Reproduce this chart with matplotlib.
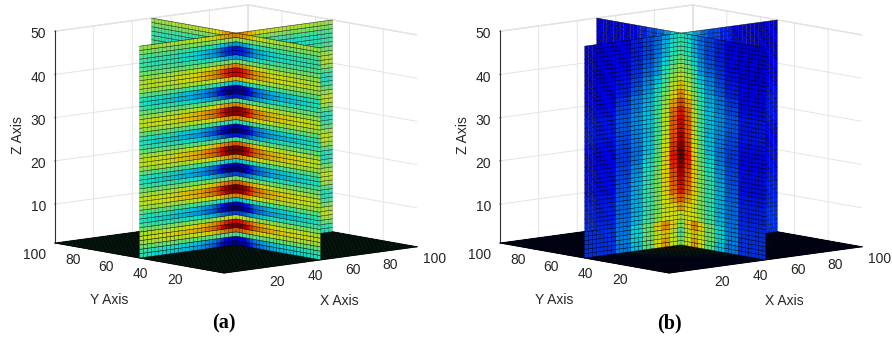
import numpy as np
import matplotlib
matplotlib.use("Agg")
import matplotlib.pyplot as plt
from mpl_toolkits.mplot3d import proj3d
from mpl_toolkits.mplot3d.art3d import Poly3DCollection, Line3DCollection

plt.rcParams['font.family'] = ['Liberation Sans', 'DejaVu Sans']

X_TICKS = [20, 40, 60, 80, 100]
Y_TICKS = [20, 40, 60, 80, 100]
Z_TICKS = [10, 20, 30, 40, 50]
PANEL_LABELS = ['(a)', '(b)']

# panel (a): field along z (one value per mesh row, bottom to top), -1 .. 1
wave_a = [-.95, -.8, -.1, .6, 1, .8, .2, -.6, -1, -.85, -.3, .5, .95, 1, .6, 0, -.6, -1, -.9, -.3,
          .5, 1, 1, .6, -.1, -.7, -1, -.85, -.2, .5, .95, .95, .5, -.1, -.7, -1, -.9, -.3, .4, .8,
          .8, .5, 0, -.4, -.7, -.7, -.4, .1, .5]
# panel (a): amplitude by distance from the central line (2-unit bins)
envelope_a = [.50, .49, .46, .41, .35, .30, .27, .25, .23, .21, .20, .19, .18, .17, .17, .16, .16,
              .15, .15, .14, .14, .13, .12, .11, .10]
floor_a = 45

# panel (b): readings in percent of the colour range
dist_edges_b = [0, 3, 6, 10, 15, 20, 27, 35, 51]
z_rows_b = list(range(2, 52, 2))
table_b = [
    [50, 62, 72, 64, 48, 34, 26, 18], [46, 60, 68, 62, 50, 36, 27, 18], [52, 66, 74, 66, 50, 36, 26, 18],
    [60, 64, 64, 54, 44, 33, 25, 17], [72, 66, 62, 52, 42, 32, 24, 16], [80, 72, 64, 52, 42, 32, 24, 16],
    [88, 78, 66, 52, 42, 32, 23, 15], [90, 80, 66, 52, 42, 31, 22, 14], [94, 82, 66, 52, 40, 30, 21, 14],
    [98, 86, 66, 50, 38, 28, 20, 14], [100, 88, 66, 48, 36, 26, 19, 13], [98, 85, 64, 47, 34, 25, 19, 13],
    [94, 82, 62, 45, 34, 26, 20, 14], [90, 80, 60, 44, 33, 27, 21, 15], [90, 80, 60, 44, 34, 28, 22, 15],
    [88, 78, 60, 44, 34, 28, 22, 15], [82, 72, 56, 42, 33, 26, 20, 14], [74, 66, 52, 40, 32, 25, 18, 13],
    [68, 60, 48, 37, 29, 22, 16, 12], [62, 55, 44, 34, 27, 20, 15, 11], [56, 50, 40, 30, 24, 18, 14, 10],
    [50, 44, 36, 28, 22, 17, 13, 10], [44, 40, 33, 26, 20, 16, 13, 10], [42, 38, 32, 25, 20, 16, 12, 10],
    [40, 36, 30, 24, 20, 16, 12, 10],
]

W, H = 892, 341
fig = plt.figure(figsize=(W / 100, H / 100), dpi=100, facecolor='white')
jet = plt.get_cmap('jet')

x_edges = np.arange(0, 101, 2)
z_edges = np.arange(1, 51)
floor_edges = np.arange(0, 101, 1)


def value_a(d, iz):
    return .5 + wave_a[iz] * envelope_a[min(int(d // 2), 24)]


def value_b(d, iz):
    col = min(np.searchsorted(dist_edges_b, d, side='right') - 1, 7)
    return table_b[min(iz // 2, 24)][col] / 100


def muted(v):
    r, g, b, a = jet(v)
    return (r * .88, g * .88, b * .88, a)


def wall_polys(axis, lo, hi, value):
    polys, cols = [], []
    for i in range(len(x_edges) - 1):
        a, b = x_edges[i], x_edges[i + 1]
        if a < lo or b > hi:
            continue
        d = abs((a + b) / 2 - 50)
        for k in range(len(z_edges) - 1):
            z0, z1 = z_edges[k], z_edges[k + 1]
            if axis == 'x':
                polys.append([(a, 50, z0), (b, 50, z0), (b, 50, z1), (a, 50, z1)])
            else:
                polys.append([(50, a, z0), (50, b, z0), (50, b, z1), (50, a, z1)])
            cols.append(muted(value(d, k)))
    return polys, cols


def add_wall(ax, axis, lo, hi, value, zo):
    polys, cols = wall_polys(axis, lo, hi, value)
    ax.add_collection3d(Poly3DCollection(polys, facecolors=cols, edgecolors=(0, 0, 0, .45),
                                         linewidths=.25, zorder=zo), autolim=False)
    if axis == 'x':
        rows = [[(lo, 50, z), (hi, 50, z)] for z in z_edges]
    else:
        rows = [[(50, lo, z), (50, hi, z)] for z in z_edges]
    ax.add_collection3d(Line3DCollection(rows, colors=[(0, 0, 0, .5)], linewidths=.5, zorder=zo + .5),
                        autolim=False)


def add_floor(ax, value, zo):
    polys, cols = [], []
    for i in range(len(floor_edges) - 1):
        for j in range(len(floor_edges) - 1):
            a, b = floor_edges[i], floor_edges[i + 1]
            c, d = floor_edges[j], floor_edges[j + 1]
            polys.append([(a, c, 1), (b, c, 1), (b, d, 1), (a, d, 1)])
            cols.append(jet(value(np.hypot((a + b) / 2 - 50, (c + d) / 2 - 50))))
    ax.add_collection3d(Poly3DCollection(polys, facecolors=cols, edgecolors=(0, 0, 0, .88),
                                         linewidths=.42, zorder=zo), autolim=False)


def to_px(ax, p):
    X, Y, _ = proj3d.proj_transform(p[0], p[1], p[2], ax.get_proj())
    return ax.transData.transform((X, Y))


def place(ax, front, right):
    L = 400
    ax.set_position([0, 0, L / W, L / H])
    ax.apply_aspect()
    a, b = to_px(ax, (0, 0, 1)), to_px(ax, (100, 0, 1))
    L *= np.hypot(right[0] - front[0], right[1] - front[1]) / np.hypot(*(b - a))
    ax.set_position([0, 0, L / W, L / H])
    ax.apply_aspect()
    a = to_px(ax, (0, 0, 1))
    x0 = front[0] - a[0]
    y0 = (H - front[1]) - a[1]
    ax.set_position([x0 / W, y0 / H, L / W, L / H])
    ax.apply_aspect()


def nudge(ax, text, dx, dy):
    inv = ax.transData.inverted()
    shift = inv.transform((dx, dy)) - inv.transform((0, 0))
    original = text.set_position
    text.set_position = lambda xy: original((xy[0] + shift[0], xy[1] + shift[1]))


def panel(dx, label, value, floor_value):
    ax = fig.add_subplot(projection='3d', proj_type='ortho', computed_zorder=False)
    ax.patch.set_alpha(0)
    ax.view_init(elev=8.95, azim=-131.2)
    ax.set_box_aspect((1, 1, .836))
    ax.set_xlim(0, 100, view_margin=0)
    ax.set_ylim(0, 100, view_margin=0)
    ax.set_zlim(1, 50, view_margin=0)
    ax.set_xticks(X_TICKS)
    ax.set_yticks(Y_TICKS)
    ax.set_zticks(Z_TICKS)
    ax.zaxis.set_ticks_position('upper')
    ax.zaxis.set_label_position('upper')
    for axis in (ax.xaxis, ax.yaxis, ax.zaxis):
        axis.set_pane_color((1, 1, 1, 1))
        axis.pane.set_edgecolor('#dedede')
        axis._axinfo['grid'].update(color='#e4e4e4', linewidth=.7)
        axis._axinfo['tick'].update(inward_factor=0, outward_factor=.03)
        axis.line.set_color('#303030')
        axis.line.set_linewidth(.8)
    ax.tick_params(labelsize=10, labelcolor='#262626', color='#303030', pad=2)
    ax.xaxis.set_rotate_label(False)
    ax.yaxis.set_rotate_label(False)
    ax.zaxis.set_rotate_label(False)
    ax.set_xlabel('X Axis', fontsize=10, color='#262626', rotation=0, labelpad=8)
    ax.set_ylabel('Y Axis', fontsize=10, color='#262626', rotation=0, labelpad=8)
    ax.set_zlabel('Z Axis', fontsize=10, color='#262626', rotation=90, labelpad=6)

    add_floor(ax, floor_value, 1)
    add_wall(ax, 'x', 50, 100, value, 2)
    add_wall(ax, 'y', 50, 100, value, 3)
    add_wall(ax, 'x', 0, 50, value, 4)
    add_wall(ax, 'y', 0, 50, value, 5)
    place(ax, (224 + dx, 273), (417 + dx, 247))

    for tick, (ox, oy) in zip(ax.xaxis.get_major_ticks(), [(3, 9), (3, 9), (2, 10), (1, 10), (7, 10)]):
        nudge(ax, tick.label1, ox, oy)
    for tick, (ox, oy) in zip(ax.yaxis.get_major_ticks(), [(-3, 10), (-3, 10), (-4, 11), (-3, 12), (-8, 11)]):
        nudge(ax, tick.label1, ox, oy)
    for tick in ax.zaxis.get_major_ticks():
        nudge(ax, tick.label1, 7, 3.5)
    nudge(ax, ax.xaxis.label, -13, 5)
    nudge(ax, ax.yaxis.label, 6, 3)
    nudge(ax, ax.zaxis.label, 27, 1)

    fig.text((224 + dx) / W, 1 - 323 / H, label, family=['Liberation Serif'], weight='bold',
             fontsize=14.5, ha='center', va='center', color='black')
    return ax


panel(0, PANEL_LABELS[0], value_a, lambda r: floor_a / 100)
panel(445, PANEL_LABELS[1], value_b, lambda r: value_b(r, 0))
fig.savefig('out.png', dpi=100)
